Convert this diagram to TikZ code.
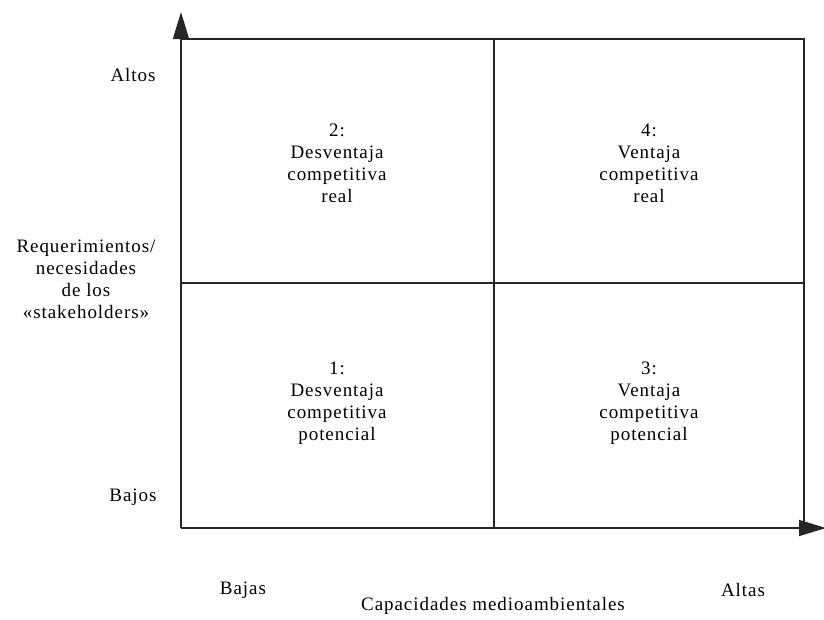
\documentclass[tikz,border=0pt]{standalone}
\usepackage{fontspec}
\setmainfont{Liberation Serif}[LetterSpace=5]
\usetikzlibrary{arrows.meta}
\begin{document}
\begin{tikzpicture}[x=1pt,y=-1pt,
  lbl/.style={font=\fontsize{19}{22}\selectfont, align=center, inner sep=0pt},
  gridline/.style={line width=1.5pt, draw=black!85},
  axis/.style={line width=1.5pt, draw=black!85, -{Triangle[length=27pt,width=16pt]}}]
\useasboundingbox (0,0) rectangle (824,619);
\coordinate (o) at (181,528);
\coordinate (ytip) at (181,12);
\coordinate (xtip) at (826,528);
\coordinate (tl) at (181,39);
\coordinate (tr) at (804,39);
\coordinate (br) at (804,528);
\coordinate (mt) at (494,39);
\coordinate (mb) at (494,528);
\coordinate (ml) at (181,283);
\coordinate (mr) at (804,283);
\draw[gridline] (tl) -- (tr) -- (br);
\draw[gridline] (mt) -- (mb);
\draw[gridline] (ml) -- (mr);
\draw[axis] (o) -- (ytip);
\draw[axis] (o) -- (xtip);
\node[lbl] (q2) at (337,163) {2:\\Desventaja\\competitiva\\real};
\node[lbl] (q4) at (649,163) {4:\\Ventaja\\competitiva\\real};
\node[lbl] (q1) at (337,403) {1:\\Desventaja\\competitiva\\potencial};
\node[lbl] (q3) at (649,403) {3:\\Ventaja\\competitiva\\potencial};
\node[lbl] (altos) at (133,75) {Altos};
\node[lbl] (bajos) at (133,497) {Bajos};
\node[lbl] (req) at (86,279) {Requerimientos/\\necesidades\\de los\\«stakeholders»};
\node[lbl] (bajas) at (243,590) {Bajas};
\node[lbl] (altas) at (743,590) {Altas};
\node[lbl] (cap) at (493,606) {Capacidades medioambientales};
\end{tikzpicture}
\end{document}
